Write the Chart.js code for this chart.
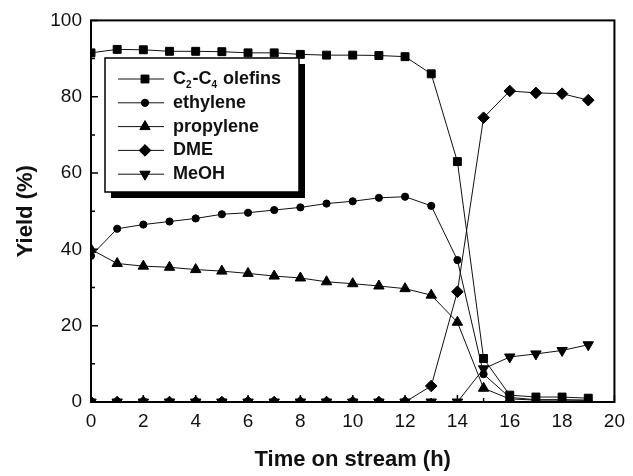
<!DOCTYPE html>
<html>
<head>
<meta charset="utf-8">
<script src="https://cdn.jsdelivr.net/npm/chart.js@4.4.1/dist/chart.umd.min.js"></script>
<style>
  html, body { margin: 0; padding: 0; background: #fff; }
  #wrap { width: 633px; height: 476px; }
</style>
</head>
<body>
<div id="wrap"><canvas id="chart" width="633" height="476"></canvas></div>
<script>
// time on stream (h)
const hours = [0, 1, 2, 3, 4, 5, 6, 7, 8, 9, 10, 11, 12, 13, 14, 15, 16, 17, 18, 19];
// yields (%)
const olefins   = [91.5, 92.4, 92.3, 91.9, 91.9, 91.8, 91.5, 91.5, 91.1, 90.9, 90.9, 90.8, 90.5, 86.0, 63.0, 11.4, 1.8, 1.3, 1.3, 1.0];
const ethylene  = [38.3, 45.4, 46.5, 47.3, 48.1, 49.2, 49.6, 50.3, 51.0, 52.0, 52.6, 53.5, 53.8, 51.4, 37.2, 7.3, 1.2, 0.6, 0.6, 0.5];
const propylene = [40.0, 36.3, 35.6, 35.3, 34.7, 34.3, 33.7, 33.0, 32.5, 31.5, 31.0, 30.4, 29.7, 28.0, 20.9, 3.6, 0.8, 0.5, 0.5, 0.4];
const dme       = [0, 0, 0, 0, 0, 0, 0, 0, 0, 0, 0, 0, 0, 4.2, 28.9, 74.5, 81.5, 81.0, 80.8, 79.1];
const meoh      = [0, 0, 0, 0, 0, 0, 0, 0, 0, 0, 0, 0, 0, 0, 0, 8.7, 11.8, 12.6, 13.5, 15.0];

const xTicks = [0, 2, 4, 6, 8, 10, 12, 14, 16, 18, 20];
const yTicks = [0, 20, 40, 60, 80, 100];

Chart.defaults.font.family = "'Liberation Sans', Arial, sans-serif";
Chart.defaults.color = '#111';

function pts(arr) {
    return arr.map((v, i) => ({ x: hours[i], y: v }));
}

const seriesStyles = [
    { label: 'C2-C4 olefins', data: olefins, pointStyle: 'rect', radius: 5.6, rotation: 0 },
    { label: 'ethylene', data: ethylene, pointStyle: 'circle', radius: 3.6, rotation: 0 },
    { label: 'propylene', data: propylene, pointStyle: 'triangle', radius: 6, rotation: 0 },
    { label: 'DME', data: dme, pointStyle: 'rectRot', radius: 5.8, rotation: 0 },
    { label: 'MeOH', data: meoh, pointStyle: 'triangle', radius: 6, rotation: 180 }
];

// frame + inward ticks, like the origin plot
const framePlugin = {
    id: 'frame',
    afterDatasetsDraw(chart) {
        const { ctx, chartArea: a, scales } = chart;
        ctx.save();
        ctx.strokeStyle = '#000';
        ctx.lineWidth = 2;
        ctx.strokeRect(a.left, a.top, a.right - a.left, a.bottom - a.top);
        ctx.lineWidth = 1.5;
        ctx.beginPath();
        for (let h = 0; h <= 20; h++) {
            const px = scales.x.getPixelForValue(h);
            const len = h % 2 === 0 ? 7 : 4;
            ctx.moveTo(px, a.bottom);
            ctx.lineTo(px, a.bottom - len);
        }
        for (let v = 0; v <= 100; v += 10) {
            const py = scales.y.getPixelForValue(v);
            const len = v % 20 === 0 ? 7 : 4;
            ctx.moveTo(a.left, py);
            ctx.lineTo(a.left + len, py);
        }
        ctx.stroke();
        ctx.restore();
    }
};

// boxed legend with drop shadow and subscripts
const legendPlugin = {
    id: 'boxLegend',
    afterDraw(chart) {
        const ctx = chart.ctx;
        const bx = 105, by = 58, bw = 194, bh = 134;
        ctx.save();
        ctx.fillStyle = '#000';
        ctx.fillRect(bx + 6, by + 6, bw, bh);
        ctx.fillStyle = '#fff';
        ctx.fillRect(bx, by, bw, bh);
        ctx.strokeStyle = '#000';
        ctx.lineWidth = 1.5;
        ctx.strokeRect(bx, by, bw, bh);

        seriesStyles.forEach((s, i) => {
            const y = 79 + i * 23.8;
            ctx.strokeStyle = '#111';
            ctx.lineWidth = 1;
            ctx.beginPath();
            ctx.moveTo(118, y);
            ctx.lineTo(164, y);
            ctx.stroke();
            ctx.fillStyle = '#000';
            Chart.helpers.drawPoint(ctx, {
                pointStyle: s.pointStyle, radius: s.radius, rotation: s.rotation, borderWidth: 1
            }, 145, y);
            ctx.fill();

            ctx.fillStyle = '#111';
            ctx.textBaseline = 'middle';
            ctx.textAlign = 'left';
            if (i === 0) {
                let x = 173;
                const big = "bold 18px 'Liberation Sans', Arial, sans-serif";
                const small = "bold 10px 'Liberation Sans', Arial, sans-serif";
                const parts = [['C', big, 0], ['2', small, 6], ['-C', big, 0], ['4', small, 6], [' olefins', big, 0]];
                parts.forEach(p => {
                    ctx.font = p[1];
                    ctx.fillText(p[0], x, y + p[2]);
                    x += ctx.measureText(p[0]).width + (p[1] === small ? 1 : 0);
                });
            } else {
                ctx.font = "bold 18px 'Liberation Sans', Arial, sans-serif";
                ctx.fillText(s.label, 173, y);
            }
        });
        ctx.restore();
    }
};

const ctx = document.getElementById('chart').getContext('2d');
new Chart(ctx, {
    type: 'line',
    data: {
        datasets: seriesStyles.map(s => ({
            label: s.label,
            data: pts(s.data),
            borderColor: '#111',
            borderWidth: 1,
            backgroundColor: '#000',
            pointBackgroundColor: '#000',
            pointBorderColor: '#000',
            pointBorderWidth: 1,
            pointStyle: s.pointStyle,
            pointRadius: s.radius,
            pointRotation: s.rotation,
            tension: 0
        }))
    },
    plugins: [framePlugin, legendPlugin],
    options: {
        responsive: false,
        animation: false,
        events: [],
        layout: { padding: { top: 17, right: 13, left: 0, bottom: 0 } },
        plugins: {
            legend: { display: false },
            tooltip: { enabled: false }
        },
        scales: {
            x: {
                type: 'linear',
                min: 0,
                max: 20,
                afterFit: s => { s.height = 74; },
                afterBuildTicks: s => { s.ticks = xTicks.map(v => ({ value: v })); },
                grid: { display: false, drawTicks: false },
                border: { display: false },
                ticks: { padding: 8, font: { size: 19 }, color: '#111' },
                title: {
                    display: true,
                    text: 'Time on stream (h)',
                    font: { size: 22, weight: 'bold' },
                    color: '#111',
                    padding: { top: 0, bottom: 3 }
                }
            },
            y: {
                min: 0,
                max: 100,
                afterFit: s => { s.width = 91; },
                afterBuildTicks: s => { s.ticks = yTicks.map(v => ({ value: v })); },
                grid: { display: false, drawTicks: false },
                border: { display: false },
                ticks: { padding: 9, font: { size: 19 }, color: '#111' },
                title: {
                    display: true,
                    text: 'Yield (%)',
                    font: { size: 22, weight: 'bold' },
                    color: '#111',
                    padding: { top: 13, bottom: 0 }
                }
            }
        }
    }
});
</script>
</body>
</html>
